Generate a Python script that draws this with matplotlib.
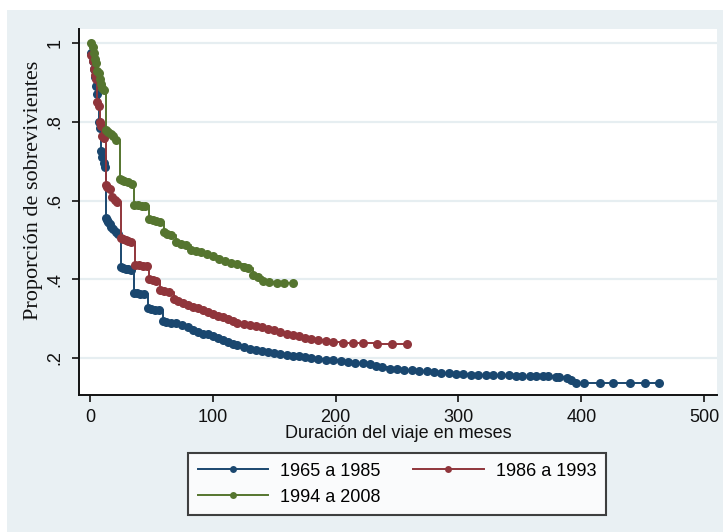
import matplotlib
matplotlib.use("Agg")
import matplotlib.pyplot as plt
from matplotlib.lines import Line2D
from matplotlib.patches import Rectangle

# Kaplan-Meier estimates (months, survival)
t_6585 = [1, 2, 3, 4, 5, 6, 7, 8, 9, 10, 11, 12, 13, 14, 15, 16, 17, 19, 21, 23,
          25, 27, 29, 31, 33, 36, 38, 41, 44, 47, 50, 53, 56, 59, 62, 66, 70, 75,
          80, 84, 88, 92, 96, 100, 104, 108, 112, 116, 120, 125, 130, 135, 140,
          145, 150, 155, 160, 165, 170, 175, 180, 186, 192, 198, 204, 210, 216,
          222, 228, 233, 238, 244, 250, 256, 262, 268, 274, 280, 286, 292, 298,
          304, 310, 316, 322, 328, 335, 341, 347, 352, 358, 363, 369, 373, 379,
          382, 388, 392, 396, 402, 415, 426, 440, 452, 463]
s_6585 = [0.975, 0.955, 0.935, 0.915, 0.89, 0.87, 0.80, 0.785, 0.725, 0.71, 0.695,
          0.685, 0.555, 0.55, 0.545, 0.54, 0.532, 0.527, 0.52, 0.515,
          0.43, 0.428, 0.427, 0.425, 0.424, 0.365, 0.364, 0.363, 0.362, 0.326,
          0.325, 0.323, 0.322, 0.293, 0.292, 0.29, 0.288, 0.285,
          0.28, 0.27, 0.265, 0.262, 0.26, 0.255, 0.25, 0.245, 0.24, 0.235, 0.232,
          0.228, 0.224, 0.22, 0.217,
          0.215, 0.213, 0.21, 0.208, 0.206, 0.204, 0.202, 0.2, 0.198, 0.196,
          0.194, 0.192, 0.19, 0.188,
          0.187, 0.186, 0.18, 0.176, 0.173, 0.171, 0.17, 0.169, 0.167, 0.166,
          0.165, 0.163, 0.162, 0.16,
          0.159, 0.158, 0.158, 0.157, 0.157, 0.156, 0.156, 0.155, 0.155, 0.155,
          0.154, 0.154, 0.154, 0.153,
          0.152, 0.148, 0.143, 0.137, 0.136, 0.136, 0.136, 0.136, 0.136, 0.136]

t_8693 = [1, 2, 3, 4, 5, 6, 7, 8, 9, 10, 11, 13, 14, 16, 18, 20, 22, 25, 27, 29,
          31, 33, 37, 40, 43, 46, 48, 51, 54, 57, 60, 64, 68, 72, 76, 80, 84, 88,
          92, 96, 100, 104, 108, 112, 116, 120, 125, 130, 135, 140, 145, 150, 155,
          160, 165, 170, 175, 180, 186, 192, 198, 206, 214, 222, 234, 246, 258]
s_8693 = [0.97, 0.955, 0.935, 0.92, 0.91, 0.85, 0.84, 0.80, 0.79, 0.765, 0.76,
          0.64, 0.635, 0.63, 0.61, 0.602, 0.597, 0.505, 0.503, 0.50,
          0.498, 0.495, 0.437, 0.436, 0.435, 0.434, 0.40, 0.398, 0.396, 0.372,
          0.37, 0.368, 0.35, 0.345, 0.34, 0.335, 0.33, 0.327,
          0.322, 0.316, 0.312, 0.308, 0.303, 0.298, 0.293, 0.29, 0.287, 0.285,
          0.282, 0.278, 0.274, 0.27, 0.266,
          0.262, 0.258, 0.255, 0.252, 0.249, 0.245, 0.243, 0.241, 0.239, 0.238,
          0.237, 0.236, 0.236, 0.236]

t_9408 = [1, 2, 3, 4, 5, 6, 7, 8, 9, 10, 11, 13, 15, 17, 19, 21, 24, 26, 28, 31,
          34, 36, 39, 42, 45, 48, 51, 54, 57, 60, 63, 66, 70, 74, 78, 82, 86, 90,
          95, 100, 105, 110, 115, 120, 125, 129, 133, 137, 141, 146, 152, 158, 165]
s_9408 = [1.0, 0.99, 0.975, 0.96, 0.95, 0.93, 0.925, 0.91, 0.895, 0.885, 0.88,
          0.78, 0.775, 0.77, 0.765, 0.755, 0.655, 0.652, 0.65, 0.647,
          0.643, 0.59, 0.588, 0.587, 0.585, 0.552, 0.55, 0.548, 0.545, 0.52,
          0.515, 0.512, 0.495, 0.49, 0.488, 0.475, 0.472, 0.47,
          0.465, 0.458, 0.452, 0.447, 0.442, 0.438, 0.432, 0.428, 0.41, 0.405,
          0.395, 0.392, 0.39, 0.39, 0.39]

labels = ["1965 a 1985", "1986 a 1993", "1994 a 2008"]
colors = ["#1a476f", "#90353b", "#55752f"]
bg = "#e9f0f3"

fig = plt.figure(figsize=(7.23, 5.32), dpi=100, facecolor="white")
fig.patches.append(Rectangle((7 / 723, 0), 1, 1 - 10 / 532, transform=fig.transFigure,
                             facecolor=bg, edgecolor="none", zorder=-10))

ax = fig.add_axes([79 / 723, 1 - 395 / 532, (717 - 79) / 723, (395 - 29) / 532])
ax.set_facecolor("white")

series = [(t_6585, s_6585), (t_8693, s_8693), (t_9408, s_9408)]
for (t, s), c in zip(series, colors):
    ax.plot(t, s, drawstyle="steps-post", color=c, lw=1.4,
            marker="o", ms=6.5, mew=0, zorder=3)

ax.set_xlim(-9, 510.5)
ax.set_ylim(0.106, 1.036)
ax.set_xticks([0, 100, 200, 300, 400, 500])
ax.set_yticks([0.2, 0.4, 0.6, 0.8, 1.0])
ax.set_yticklabels([".2", ".4", ".6", ".8", "1"], rotation=90, va="center")
ax.yaxis.grid(True, color="#e6eef1", lw=1.6)
ax.set_axisbelow(True)

for side in ["top", "right"]:
    ax.spines[side].set_visible(False)
for side in ["left", "bottom"]:
    ax.spines[side].set_color("#111111")
    ax.spines[side].set_linewidth(1.4)
ax.tick_params(axis="both", direction="out", length=5, width=1.2, color="#111111",
               labelsize=13, labelcolor="#111111")
ax.tick_params(axis="x", pad=5)
ax.tick_params(axis="y", pad=6)
for lab in ax.get_xticklabels() + ax.get_yticklabels():
    lab.set_family("Liberation Sans")

ax.set_xlabel("Duración del viaje en meses", family="Liberation Sans",
              fontsize=13, color="#111111", labelpad=-1)
ax.set_ylabel("Proporción de sobrevivientes", family="Liberation Serif",
              fontsize=16, color="#111111")
ax.yaxis.set_label_coords(-0.057, 0.56)

handles = [Line2D([], [], color=c, lw=1.4, marker="o", ms=5, mew=0) for c in colors]
order = [0, 2, 1]
leg = fig.legend([handles[i] for i in order], [labels[i] for i in order],
                 ncol=2, loc="upper center", bbox_to_anchor=(397 / 723, 1 - 453 / 532),
                 frameon=True, fancybox=False, edgecolor="#111111",
                 prop={"family": "Liberation Sans", "size": 13},
                 handlelength=3.9, handletextpad=0.67, columnspacing=1.8,
                 borderpad=0.53, labelspacing=0.51, borderaxespad=0)
leg.get_frame().set_linewidth(1.5)

fig.savefig("out.png", dpi=100, facecolor=fig.get_facecolor())
